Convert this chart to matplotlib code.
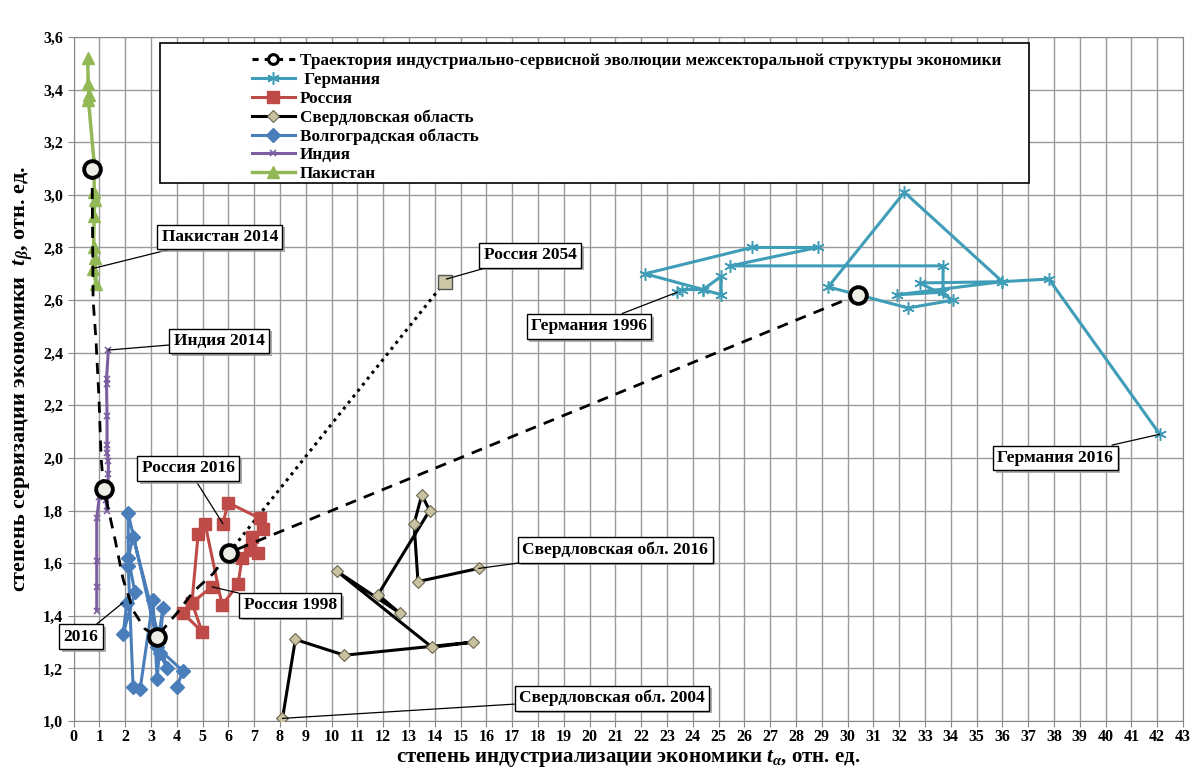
import matplotlib
matplotlib.use("Agg")
import matplotlib.pyplot as plt
from matplotlib.lines import Line2D
from matplotlib.patches import Rectangle
from matplotlib.ticker import FuncFormatter, MultipleLocator
import matplotlib.patheffects as pe

plt.rcParams['font.family'] = ['Liberation Serif', 'DejaVu Serif']
plt.rcParams['font.weight'] = 'bold'
plt.rcParams['mathtext.fontset'] = 'custom'
plt.rcParams['mathtext.it'] = 'Liberation Serif:italic:bold'
plt.rcParams['mathtext.rm'] = 'Liberation Serif:bold'

# ---------------- data ----------------
traj_x = [0.72, 0.74, 0.76, 0.87, 0.99, 1.07, 1.14, 1.18, 1.34, 1.61, 1.92, 2.31, 2.77, 3.24,
          3.74, 4.01, 4.63, 5.41, 6.03, 30.4]
traj_y = [3.10, 2.85, 2.60, 2.45, 2.22, 2.00, 1.92, 1.88, 1.81, 1.69, 1.54, 1.42, 1.35, 1.32,
          1.38, 1.41, 1.49, 1.56, 1.64, 2.62]
traj_mx = [0.72, 1.18, 3.24, 6.03, 30.4]
traj_my = [3.10, 1.88, 1.32, 1.64, 2.62]

ger_x = [23.4, 23.6, 24.4, 25.1, 25.1, 24.4, 22.15, 26.3, 28.85, 25.45, 33.7, 33.7, 31.9,
         36.0, 32.8, 34.1, 32.35, 29.25, 32.2, 36.0, 37.8, 42.1]
ger_y = [2.63, 2.64, 2.64, 2.62, 2.69, 2.64, 2.70, 2.80, 2.80, 2.73, 2.73, 2.63, 2.62,
         2.67, 2.665, 2.60, 2.57, 2.65, 3.01, 2.67, 2.68, 2.09]

rus_x = [5.37, 4.59, 4.98, 4.24, 4.59, 4.83, 5.10, 5.76, 6.38, 6.53, 6.84, 7.15, 6.92,
         7.34, 7.23, 5.99, 5.79]
rus_y = [1.51, 1.45, 1.34, 1.41, 1.45, 1.71, 1.75, 1.44, 1.52, 1.62, 1.65, 1.64, 1.70,
         1.73, 1.77, 1.83, 1.75]
rus2054_x = [6.03, 14.4]
rus2054_y = [1.64, 2.67]

sve_x = [8.1, 8.6, 10.5, 15.5, 13.9, 10.2, 12.65, 11.8, 13.8, 13.5, 13.2, 13.35, 15.7]
sve_y = [1.01, 1.31, 1.25, 1.30, 1.28, 1.57, 1.41, 1.48, 1.80, 1.86, 1.75, 1.53, 1.58]

vol_x = [4.01, 4.24, 3.24, 3.47, 3.24, 3.08, 2.58, 2.31, 2.12, 2.12, 3.35, 3.62, 2.31,
         2.12, 2.38, 1.92, 2.07]
vol_y = [1.13, 1.19, 1.28, 1.43, 1.16, 1.46, 1.12, 1.13, 1.59, 1.79, 1.26, 1.20, 1.70,
         1.62, 1.49, 1.33, 1.45]

ind_x = [0.90, 0.90, 0.90, 0.90, 1.00, 1.30, 1.25, 1.30, 1.35, 1.35, 1.30, 1.30, 1.30,
         1.28, 1.28, 1.35]
ind_y = [1.42, 1.51, 1.61, 1.77, 1.85, 1.86, 1.84, 1.80, 1.94, 1.99, 2.02, 2.05, 2.16,
         2.28, 2.30, 2.41]

pak_x = [0.55, 0.57, 0.60, 0.58, 0.80, 0.80, 0.83, 0.80, 0.78, 0.83, 0.88, 0.75]
pak_y = [3.52, 3.42, 3.38, 3.36, 3.12, 3.01, 2.98, 2.92, 2.80, 2.76, 2.66, 2.72]

legend_labels = ['Траектория индустриально-сервисной эволюции межсекторальной структуры экономики',
                 ' Германия', 'Россия', 'Свердловская область', 'Волгоградская область',
                 'Индия', 'Пакистан']

# annotation: text, point (x, y), text centre (x, y)
ann_text = ['Пакистан 2014', 'Индия 2014', 'Россия 2016', 'Россия 1998', '2016',
            'Россия 2054', 'Германия 1996', 'Германия 2016',
            'Свердловская обл. 2016', 'Свердловская обл. 2004']
ann_pt = [(0.75, 2.72), (1.35, 2.41), (5.79, 1.75), (5.37, 1.51), (1.92, 1.45),
          (14.45, 2.68), (23.4, 2.63), (42.1, 2.09), (15.7, 1.58), (8.1, 1.01)]
ann_xy = [(5.67, 2.84), (5.64, 2.445), (4.44, 1.96), (8.4, 1.44), (0.29, 1.32),
          (17.7, 2.77), (19.98, 2.50), (38.05, 2.0), (21.0, 1.65), (20.87, 1.087)]

# ---------------- figure ----------------
fig = plt.figure(figsize=(11.92, 7.71), dpi=100)
ax = fig.add_axes([73.5 / 1192, 1 - 721 / 771, (1183 - 73.5) / 1192, (721 - 37) / 771])

ax.set_xlim(0, 43)
ax.set_ylim(1.0, 3.6)
ax.xaxis.set_major_locator(MultipleLocator(1))
ax.yaxis.set_major_locator(MultipleLocator(0.2))
ax.yaxis.set_major_formatter(FuncFormatter(lambda v, p: f"{v:.1f}".replace('.', ',')))
ax.grid(True, color='#9a9a9a', lw=1.0)
ax.set_axisbelow(True)
for s in ax.spines.values():
    s.set_color('#888888')
ax.tick_params(axis='both', labelsize=11.5, color='#888888', length=4)
ax.tick_params(axis='x', pad=2)
for lab in ax.get_xticklabels() + ax.get_yticklabels():
    lab.set_fontweight('bold')

c_ger = '#3f9db8'
c_rus = '#bf4b48'
c_vol = '#4a7ebb'
c_ind = '#7b5fa0'
c_pak = '#93b957'

ax.plot(rus2054_x, rus2054_y, color='black', ls=(0, (1, 1.5)), lw=2.2, zorder=3)
ax.plot([14.4], [2.67], marker='s', ms=10, mfc='#cfc8a8', mec='#555555', mew=1, zorder=4)

l_ger, = ax.plot(ger_x, ger_y, color=c_ger, lw=2.2, marker=(6, 2, 0), ms=9, mec=c_ger,
                 mew=1.1, zorder=4)
l_rus, = ax.plot(rus_x, rus_y, color=c_rus, lw=2.2, marker='s', ms=8, mfc=c_rus, mec=c_rus,
                 zorder=4)
l_sve, = ax.plot(sve_x, sve_y, color='black', lw=2.2, marker='D', ms=6, mfc='#c9c2a0',
                 mec='#6b6650', mew=0.8, zorder=4)
l_vol, = ax.plot(vol_x, vol_y, color=c_vol, lw=2.2, marker='D', ms=7, mfc=c_vol, mec=c_vol,
                 zorder=4)
l_ind, = ax.plot(ind_x, ind_y, color=c_ind, lw=2.2, marker='x', ms=5, mec=c_ind, mew=1.2,
                 zorder=4)
l_pak, = ax.plot(pak_x, pak_y, color=c_pak, lw=2.5, marker='^', ms=8, mfc=c_pak, mec=c_pak,
                 zorder=4)

ax.plot(traj_x, traj_y, color='black', ls=(0, (4, 3)), lw=2.0, zorder=5)
ax.plot(traj_mx, traj_my, ls='none', marker='o', ms=12, mfc='#efeee6', mec='black', mew=2.8,
        zorder=6)
l_traj = Line2D([], [], color='black', ls=(0, (2, 2)), lw=2.2, marker='o', ms=7,
                mfc='white', mec='black', mew=2.2)

# legend box
ax.add_patch(Rectangle((3.35, 3.046), 33.7, 0.532, facecolor='white', edgecolor='black',
                       lw=1.2, zorder=7))
leg = ax.legend([l_traj, l_ger, l_rus, l_sve, l_vol, l_ind, l_pak], legend_labels,
                loc='upper left', bbox_to_anchor=(6.65 / 43, 0.986),
                frameon=False, handlelength=2.5, handletextpad=0.3,
                labelspacing=0.15, borderaxespad=0, prop={'weight': 'bold', 'size': 12.3})
leg.set_zorder(8)

# annotations
for t, p, xy in zip(ann_text, ann_pt, ann_xy):
    a = ax.annotate(t, xy=p, xytext=xy, ha='center', va='center', fontsize=12.5,
                    fontweight='bold', zorder=9,
                    bbox=dict(boxstyle='square,pad=0.25', fc='white', ec='black', lw=1),
                    arrowprops=dict(arrowstyle='-', color='black', lw=0.9, shrinkA=0, shrinkB=0))
    a.get_bbox_patch().set_path_effects([pe.withSimplePatchShadow(offset=(2, -2),
                                                                   shadow_rgbFace='#999999', alpha=0.8)])

ax.set_xlabel('степень индустриализации экономики $t_{\\alpha}$, отн. ед.', fontsize=15,
              fontweight='bold', labelpad=2)
ax.set_ylabel('степень сервизации экономики  $t_{\\beta}$, отн. ед.', fontsize=16,
              fontweight='bold', labelpad=6)

fig.savefig('out.png', dpi=100)
